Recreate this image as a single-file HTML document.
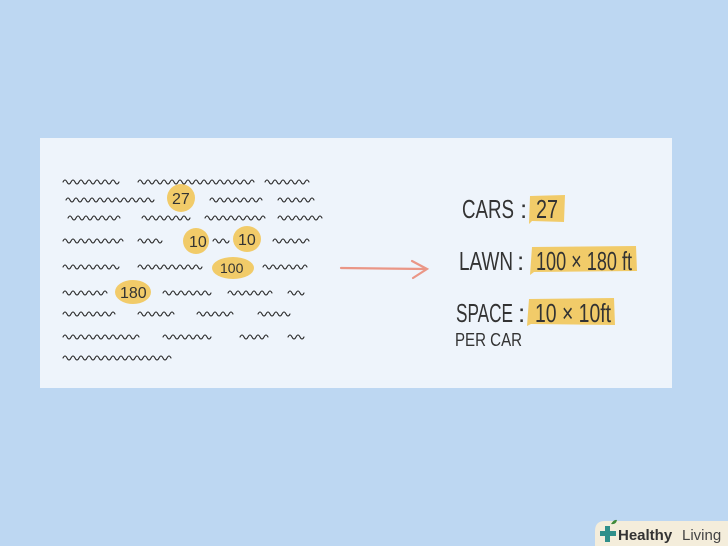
<!DOCTYPE html>
<html><head><meta charset="utf-8">
<style>
html,body{margin:0;padding:0;background:#bdd7f2;}
svg{display:block}
</style></head>
<body>
<svg id="s" width="728" height="546" viewBox="0 0 728 546" xmlns="http://www.w3.org/2000/svg" font-family="Liberation Sans, sans-serif">
<rect width="728" height="546" fill="#bdd7f2"/>
<rect x="40" y="138" width="632" height="250" fill="#eef4fb"/>
<g fill="#f2c75a" opacity="0.9">
<ellipse cx="181" cy="198" rx="14" ry="14"/>
<ellipse cx="196" cy="241" rx="13" ry="13"/>
<ellipse cx="247" cy="239" rx="14" ry="13"/>
<ellipse cx="233" cy="268" rx="21" ry="11"/>
<ellipse cx="133" cy="292" rx="18" ry="12"/>
<path d="M530 196 L565 195 L564 222 L532 221 L529 224 Z"/>
<path d="M532 247 L636 246 L637 271 L534 272 L530 275 Z"/>
<path d="M529 299 L614 298 L615 325 L531 324 L527 326 Z"/>
</g>
<g id="sq" fill="none" stroke="#2a2a2a" stroke-width="1.1" stroke-linecap="round"></g>
<g font-size="16" fill="#333">
<text x="172" y="204">27</text>
<text x="189" y="247">10</text>
<text x="238" y="245">10</text>
<text x="220" y="273" font-size="14">100</text>
<text x="120" y="298">180</text>
</g>
<g fill="#333" font-size="26">
<text x="462" y="218" textLength="52" lengthAdjust="spacingAndGlyphs">CARS</text>
<text x="520" y="218">:</text>
<text x="536" y="218" textLength="22" lengthAdjust="spacingAndGlyphs">27</text>
<text x="459" y="270" textLength="54" lengthAdjust="spacingAndGlyphs">LAWN</text>
<text x="517" y="270">:</text>
<text x="536" y="270" textLength="96" lengthAdjust="spacingAndGlyphs">100 × 180 ft</text>
<text x="456" y="322" textLength="57" lengthAdjust="spacingAndGlyphs">SPACE</text>
<text x="518" y="322">:</text>
<text x="535" y="322" textLength="76" lengthAdjust="spacingAndGlyphs">10 × 10ft</text>
<text x="455" y="346" font-size="18" textLength="67" lengthAdjust="spacingAndGlyphs">PER CAR</text>
</g>
<g stroke="#ea9686" stroke-width="2.2" fill="none" stroke-linecap="round">
<path d="M341 268 L426 269"/>
<path d="M412 261 L427 269 L413 278"/>
</g>
<path d="M605 521 H728 V546 H595 V531 Q595 521 605 521 Z" fill="#f4eddb"/>
<g fill="#2f8f8a">
<rect x="600" y="531" width="16" height="5"/>
<rect x="605" y="526" width="5" height="16"/>
</g>
<path d="M611 524 q3 -5 6 -4 q-1 5 -6 4z" fill="#3f8a3a"/>
<text x="618" y="540" font-size="15" font-weight="bold" fill="#333">Healthy</text>
<text x="682" y="540" font-size="15" fill="#444">Living</text>
</svg>
<script>
var rows=[
[182,[[63,122],[138,255],[265,312]]],
[200,[[66,155],[210,265],[278,315]]],
[218,[[68,122],[142,190],[205,268],[278,325]]],
[241,[[63,125],[138,165],[213,232],[273,310]]],
[267,[[63,122],[138,202],[263,307]]],
[293,[[63,110],[163,213],[228,272],[288,307]]],
[314,[[63,115],[138,175],[197,235],[258,292]]],
[337,[[63,142],[163,212],[240,268],[288,307]]],
[358,[[63,172]]]];
var g=document.getElementById('sq'),ns='http://www.w3.org/2000/svg';
rows.forEach(function(r){r[1].forEach(function(s){
var h=4,x=s[0]+h,d='M'+s[0]+' '+r[0]+' q'+(h/2)+' -4 '+h+' 0';
while(x+h<=s[1]){d+=' t'+h+' 0';x+=h;}
var e=document.createElementNS(ns,'path');e.setAttribute('d',d);g.appendChild(e);});});
</script>
</body></html>
